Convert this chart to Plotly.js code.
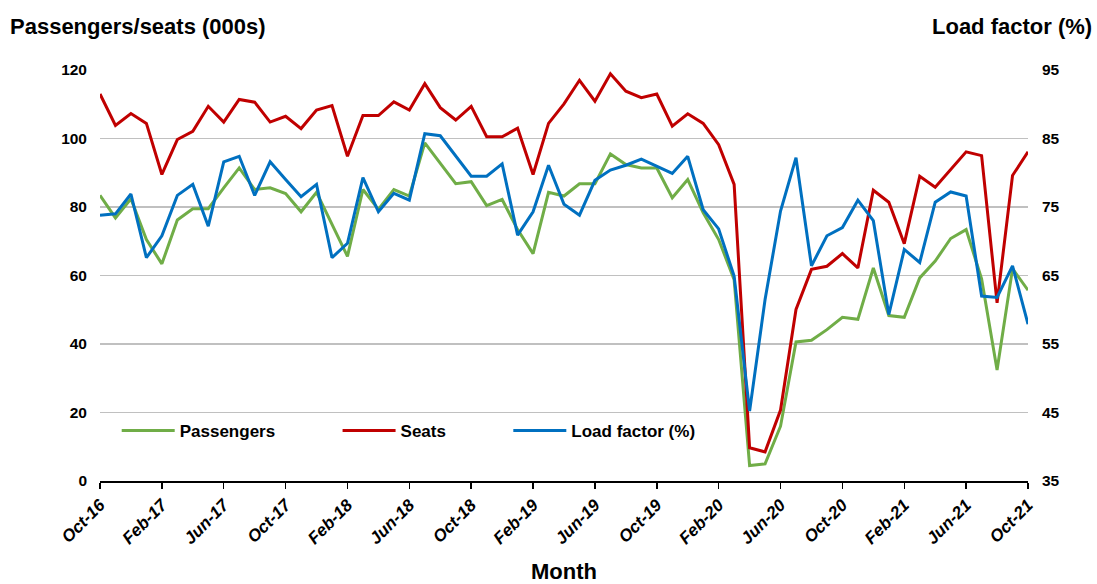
<!DOCTYPE html>
<html>
<head>
<meta charset="utf-8">
<script src="https://cdn.plot.ly/plotly-3.0.1.min.js"></script>
<style>html,body{margin:0;padding:0;background:#fff;}#chart{width:1097px;height:584px;}</style>
</head>
<body>
<div id="chart"></div>
<script>
const months = ["Oct-16","Nov-16","Dec-16","Jan-17","Feb-17","Mar-17","Apr-17","May-17","Jun-17","Jul-17","Aug-17","Sep-17",
"Oct-17","Nov-17","Dec-17","Jan-18","Feb-18","Mar-18","Apr-18","May-18","Jun-18","Jul-18","Aug-18","Sep-18",
"Oct-18","Nov-18","Dec-18","Jan-19","Feb-19","Mar-19","Apr-19","May-19","Jun-19","Jul-19","Aug-19","Sep-19",
"Oct-19","Nov-19","Dec-19","Jan-20","Feb-20","Mar-20","Apr-20","May-20","Jun-20","Jul-20","Aug-20","Sep-20",
"Oct-20","Nov-20","Dec-20","Jan-21","Feb-21","Mar-21","Apr-21","May-21","Jun-21","Jul-21","Aug-21","Sep-21","Oct-21"];

const passengers = [83.4,76.8,82.4,70.5,63.4,76.2,79.5,79.5,85.6,91.4,85.1,85.6,
83.9,78.6,84.3,75.0,65.6,85.1,79.3,85.1,83.2,98.7,92.9,86.8,
87.4,80.4,82.2,73.4,66.4,84.3,83.2,86.8,86.8,95.5,92.4,91.4,
91.4,82.7,88.0,78.3,70.5,58.8,4.5,5.0,16.0,40.6,41.1,44.2,
47.8,47.2,62.2,48.3,47.8,59.3,64.2,70.8,73.4,59.0,32.4,62.0,55.7];

const seats = [113.0,103.8,107.3,104.4,89.5,99.7,102.1,109.4,104.8,111.4,110.6,104.8,
106.5,102.9,108.3,109.6,94.8,106.7,106.7,110.7,108.3,116.0,109.0,105.4,
109.4,100.5,100.5,103.0,89.5,104.4,110.1,117.0,110.9,118.9,113.8,111.9,
113.0,103.6,107.2,104.4,98.2,86.6,9.7,8.5,20.7,50.1,61.8,62.7,
66.4,62.2,84.9,81.4,69.3,89.0,85.8,90.9,96.1,95.0,52.0,89.2,96.1];

const loadFactor = [73.8,74.0,76.9,67.6,70.8,76.7,78.3,72.2,81.6,82.4,76.7,81.6,
79.0,76.5,78.3,67.6,69.7,79.3,74.3,77.0,76.0,85.7,85.4,82.4,
79.5,79.5,81.3,70.9,74.3,81.1,75.4,73.8,78.9,80.4,81.1,82.0,
80.9,79.9,82.4,74.6,71.8,64.9,45.2,61.5,74.4,82.2,66.4,70.8,
72.0,76.0,73.0,59.3,68.8,66.9,75.7,77.2,76.6,62.0,61.8,66.4,57.9];

const tickLabels = ["Oct-16","Feb-17","Jun-17","Oct-17","Feb-18","Jun-18","Oct-18","Feb-19","Jun-19","Oct-19","Feb-20","Jun-20","Oct-20","Feb-21","Jun-21","Oct-21"];

const FONT = "Liberation Sans, Arial, sans-serif";

const traces = [
  {x: months, y: passengers, name: "Passengers", type: "scatter", mode: "lines",
   line: {color: "#70AD47", width: 3}, legend: "legend", hoverinfo: "skip"},
  {x: months, y: seats, name: "Seats", type: "scatter", mode: "lines",
   line: {color: "#C00000", width: 3}, legend: "legend2", hoverinfo: "skip"},
  {x: months, y: loadFactor, name: "Load factor (%)", type: "scatter", mode: "lines",
   line: {color: "#0070C0", width: 3}, yaxis: "y2", legend: "legend3", hoverinfo: "skip"}
];

const legendBase = {
  orientation: "h", bgcolor: "rgba(0,0,0,0)", borderwidth: 0,
  font: {family: FONT, size: 17, color: "#000", weight: "bold"},
  xanchor: "left", yanchor: "middle", itemwidth: 53
};

const layout = {
  width: 1097, height: 584,
  margin: {l: 100, r: 69, t: 70, b: 102.5},
  paper_bgcolor: "#fff", plot_bgcolor: "#fff",
  font: {family: FONT, color: "#000"},
  showlegend: true,
  legend: Object.assign({}, legendBase, {x: 0.018, y: 0.122}),
  legend2: Object.assign({}, legendBase, {x: 0.256, y: 0.122}),
  legend3: Object.assign({}, legendBase, {x: 0.440, y: 0.122}),
  xaxis: {
    type: "category", range: [0, 60],
    tickmode: "array", tickvals: tickLabels, ticktext: tickLabels,
    tickangle: -45, ticks: "outside", ticklen: 6, tickwidth: 1.5, tickcolor: "#000",
    showline: true, linecolor: "#000", linewidth: 1.5,
    showgrid: false, zeroline: false,
    tickfont: {family: FONT, size: 17, weight: "bold", style: "italic", color: "#000"},
    title: {text: "Month", font: {family: FONT, size: 22, weight: "bold", color: "#000"}, standoff: 20}
  },
  yaxis: {
    range: [0, 120], dtick: 20, tick0: 0,
    showgrid: true, gridcolor: "#C0C0C0", gridwidth: 1.5,
    zeroline: false, showline: false, ticks: "",
    ticklabelstandoff: 12,
    tickfont: {family: FONT, size: 15.5, weight: "bold", color: "#000"}
  },
  yaxis2: {
    range: [35, 95], dtick: 10, tick0: 35,
    overlaying: "y", side: "right",
    showgrid: false, zeroline: false, showline: false, ticks: "",
    ticklabelstandoff: 13,
    tickfont: {family: FONT, size: 15.5, weight: "bold", color: "#000"}
  },
  annotations: [
    {text: "Passengers/seats (000s)", xref: "paper", yref: "paper", x: -0.099, y: 1.105,
     xanchor: "left", yanchor: "middle", showarrow: false,
     font: {family: FONT, size: 22, weight: "bold", color: "#000"}},
    {text: "Load factor (%)", xref: "paper", yref: "paper", x: 1.071, y: 1.105,
     xanchor: "right", yanchor: "middle", showarrow: false,
     font: {family: FONT, size: 22, weight: "bold", color: "#000"}}
  ]
};

Plotly.newPlot("chart", traces, layout, {displayModeBar: false, staticPlot: true});
</script>
</body>
</html>
